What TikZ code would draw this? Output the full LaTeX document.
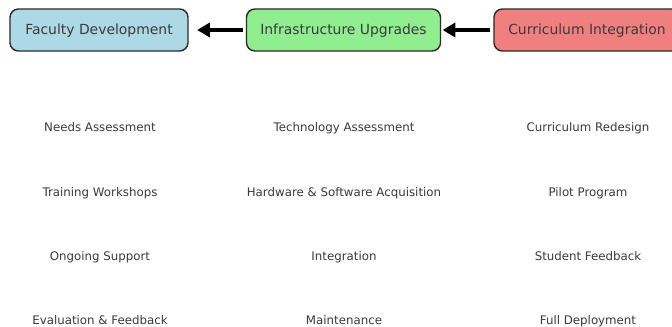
\documentclass[tikz,border=0pt]{standalone}
\usepackage{fontspec}
\setmainfont{DejaVu Sans}
\usepackage{tikz}
\usetikzlibrary{arrows.meta, positioning}
\definecolor{facultyblue}{HTML}{ADD8E6}
\definecolor{infragreen}{HTML}{90EE90}
\definecolor{currcoral}{HTML}{F08080}
\definecolor{edgegray}{HTML}{2B2B2B}
\definecolor{labelgray}{HTML}{3A3A3A}

\tikzset{
  phasebox/.style={draw=edgegray, line width=1pt, rounded corners=6pt, minimum height=1.05cm, inner xsep=0.32cm, font=\fontsize{9.9}{9.9}\selectfont, text=labelgray, text height=1.6ex, text depth=0.4ex},
  taskitem/.style={font=\fontsize{8.4}{8.4}\selectfont, text=labelgray, text height=1.6ex, text depth=0.4ex},
  flowarrow/.style={-{Triangle[length=9pt, width=10pt]}, line width=2.6pt, black}
}

\begin{document}
\begin{tikzpicture}[x=0.025cm, y=-0.025cm]
  % Canvas
  \useasboundingbox (0,0) rectangle (672,327);
  \clip (0,0) rectangle (672,327);
  \fill[white] (0,0) rectangle (672,327);

  % Phase boxes
  \node[phasebox, fill=facultyblue, minimum width=4.45cm] (faculty) at (99,30) {Faculty Development};
  \node[phasebox, fill=infragreen, minimum width=4.85cm] (infra) at (343.5,30) {Infrastructure Upgrades};
  \node[phasebox, fill=currcoral, minimum width=4.65cm] (curr) at (587,30) {Curriculum Integration};

  % Flow between phases
  \draw[flowarrow, shorten >=6pt, shorten <=2pt] (infra.west) -- (faculty.east);
  \draw[flowarrow, shorten >=1pt, shorten <=2pt] (curr.west) -- (infra.east);

  % Tasks per phase
  \foreach \txt [count=\i] in {Needs Assessment, Training Workshops, Ongoing Support, Evaluation \& Feedback}
    \node[taskitem] (faculty-\i) at (100, {127+(\i-1)*64.4}) {\txt};
  \foreach \txt [count=\i] in {Technology Assessment, Hardware \& Software Acquisition, Integration, Maintenance}
    \node[taskitem] (infra-\i) at (344, {127+(\i-1)*64.4}) {\txt};
  \foreach \txt [count=\i] in {Curriculum Redesign, Pilot Program, Student Feedback, Full Deployment}
    \node[taskitem] (curr-\i) at (588, {127+(\i-1)*64.4}) {\txt};
\end{tikzpicture}
\end{document}
